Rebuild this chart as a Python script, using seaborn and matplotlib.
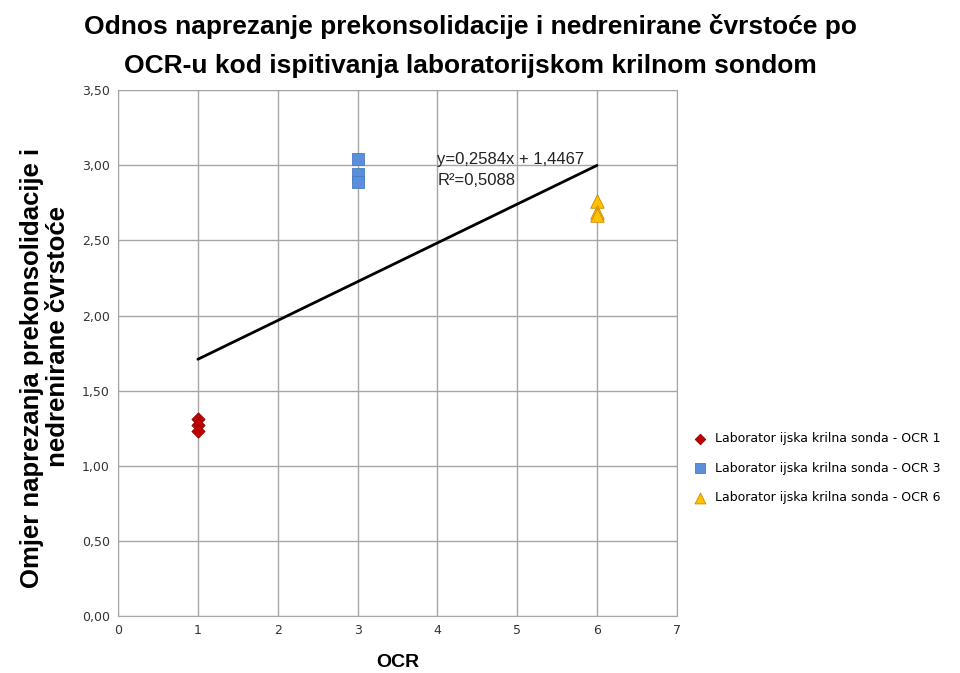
import numpy as np
import pandas as pd
import matplotlib
matplotlib.use("Agg")
import matplotlib.pyplot as plt
import seaborn as sns

series = ["Laborator ijska krilna sonda - OCR 1",
          "Laborator ijska krilna sonda - OCR 3",
          "Laborator ijska krilna sonda - OCR 6"]
ocr_values = [1, 3, 6]
ratio_ocr1 = [1.31, 1.27, 1.23]
ratio_ocr3 = [3.04, 2.94, 2.89]
ratio_ocr6 = [2.76, 2.69, 2.67]
x_ticks = [0, 1, 2, 3, 4, 5, 6, 7]
y_ticks = [0.0, 0.5, 1.0, 1.5, 2.0, 2.5, 3.0, 3.5]
trend_label = "y=0,2584x + 1,4467\nR²=0,5088"

rows = []
for s, x, ys in zip(series, ocr_values, [ratio_ocr1, ratio_ocr3, ratio_ocr6]):
    for y in ys:
        rows.append({"OCR": x, "ratio": y, "serija": s})
df = pd.DataFrame(rows)

sns.set_style("white")
plt.rcParams['font.family'] = ['DejaVu Sans']
plt.rcParams['text.color'] = 'black'

fig = plt.figure(figsize=(9.6, 6.73), dpi=100)
ax = fig.add_axes([0.123, 0.0847, 0.582, 0.7813])

palette = {series[0]: "#C00000", series[1]: "#5B8FDB", series[2]: "#FFC000"}
markers = {series[0]: "D", series[1]: "s", series[2]: "^"}
edges = {series[0]: "#8B0000", series[1]: "#4A7BC0", series[2]: "#D08A00"}
msizes = {series[0]: 45, series[1]: 75, series[2]: 95}

for s in series:
    sub = df[df.serija == s]
    sns.scatterplot(data=sub, x="OCR", y="ratio", ax=ax, color=palette[s],
                    marker=markers[s], s=msizes[s],
                    edgecolor=edges[s], linewidth=0.6, label=s, zorder=3)

# linear trend
coef = np.polyfit(df.OCR, df.ratio, 1)
xs = np.array([min(ocr_values), max(ocr_values)])
ax.plot(xs, np.polyval(coef, xs), color="black", lw=2, zorder=2)
ax.text(4.0, 2.87, trend_label, fontsize=12, color="#222222", linespacing=1.45,
        family=["Liberation Sans"])

ax.set_xlim(0, 7)
ax.set_ylim(0, 3.5)
ax.set_xticks(x_ticks)
ax.set_yticks(y_ticks)
ax.set_xticklabels([str(v) for v in x_ticks], fontsize=9, color="#333333")
ax.set_yticklabels([f"{v:.2f}".replace(".", ",") for v in y_ticks], fontsize=9,
                   color="#333333")
ax.grid(True, color="#A6A6A6", lw=1)
ax.set_axisbelow(True)
for sp in ax.spines.values():
    sp.set_color("#A6A6A6")
ax.tick_params(length=0, pad=6)

ax.set_xlabel("OCR", fontsize=14, fontweight="bold", labelpad=12,
              family=["Liberation Sans"], color="black")
ax.set_ylabel("Omjer naprezanja prekonsolidacije i\n         nedrenirane čvrstoće",
              fontsize=18.5, fontweight="bold", linespacing=1.1,
              family=["Liberation Sans"], color="black")
ax.yaxis.set_label_coords(-0.086, 0.471)

fig.text(0.49, 0.960, "Odnos naprezanje prekonsolidacije i nedrenirane čvrstoće po",
         ha="center", va="center", fontsize=19, fontweight="bold",
         family=["Liberation Sans"], color="black")
fig.text(0.49, 0.902, "OCR-u kod ispitivanja laboratorijskom krilnom sondom",
         ha="center", va="center", fontsize=19, fontweight="bold",
         family=["Liberation Sans"], color="black")

leg = ax.legend(loc="center left", bbox_to_anchor=(1.01, 0.281), frameon=False,
                fontsize=9, handletextpad=0.2, labelspacing=1.3, markerscale=0.8,
                borderaxespad=0)
for t in leg.get_texts():
    t.set_color("black")

fig.savefig("out.png", dpi=100)
